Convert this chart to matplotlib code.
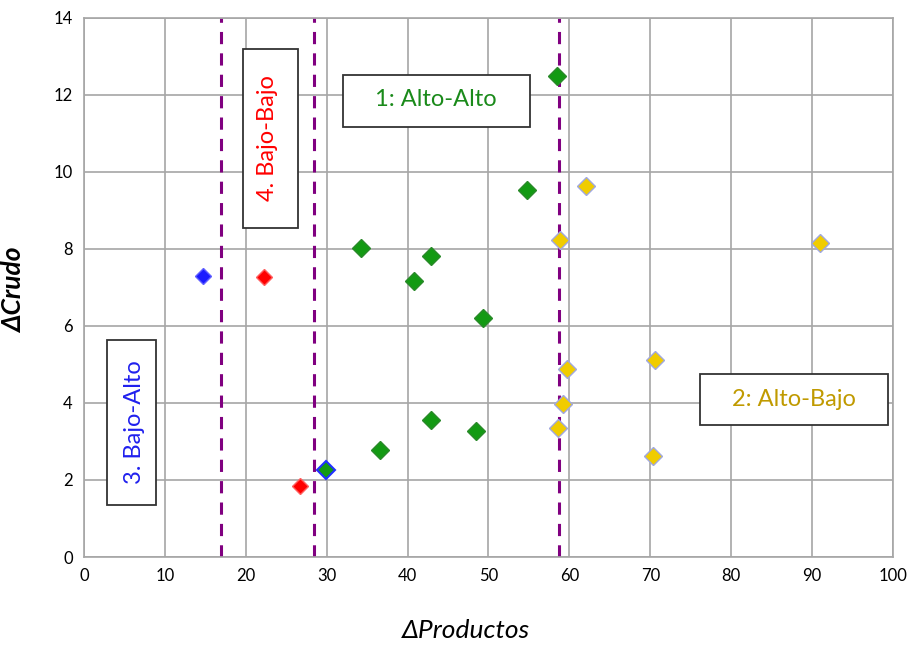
import matplotlib
matplotlib.use('Agg')
import matplotlib.pyplot as plt
from matplotlib.patches import Rectangle

plt.rcParams['font.family'] = ['Lato', 'DejaVu Sans']

# cuadrante 3 (azul), 4 (rojo), 1 (verde), 2 (amarillo)
x_azul = [14.7]
y_azul = [7.3]
x_rojo = [22.2, 26.7]
y_rojo = [7.27, 1.84]
x_verde = [29.9, 34.2, 36.6, 40.8, 42.9, 42.9, 48.5, 49.3, 54.8, 58.5]
y_verde = [2.26, 8.03, 2.78, 7.17, 7.82, 3.56, 3.27, 6.2, 9.53, 12.5]
x_amarillo = [62.1, 58.8, 59.7, 59.2, 58.6, 70.6, 70.3, 91.0]
y_amarillo = [9.64, 8.23, 4.88, 3.97, 3.35, 5.12, 2.62, 8.16]
cortes_x = [16.9, 28.4, 58.7]

fig = plt.figure(figsize=(9.1, 6.45), dpi=100)
ax = fig.add_axes([0.0923, 0.1364, 0.889, 0.836])

ax.set_xlim(0, 100)
ax.set_ylim(0, 14)
ax.set_xticks(range(0, 101, 10))
ax.set_yticks(range(0, 15, 2))
ax.grid(True, color='#a6a6a6', linewidth=1.2)
ax.set_axisbelow(True)
for s in ax.spines.values():
    s.set_color('#a6a6a6')
    s.set_linewidth(1.2)
ax.tick_params(length=0, labelsize=12, pad=8)

for xv in cortes_x:
    ax.axvline(xv, color='#800080', linestyle=(0, (4, 3)), linewidth=2.2, zorder=2)

ax.plot(x_azul, y_azul, 'D', color='#1a1aff', ms=8, mec='#6060ff', zorder=3)
ax.plot(x_rojo, y_rojo, 'D', color='#ff0000', ms=8, mec='#ff6060', zorder=3)
ax.plot(x_verde[:1], y_verde[:1], 'D', color='#139a13', ms=9, mec='#2030ff', mew=1.5, zorder=3)
ax.plot(x_verde[1:], y_verde[1:], 'D', color='#139a13', ms=9, mec='#2a8a2a', zorder=3)
ax.plot(x_amarillo, y_amarillo, 'D', color='#f0cc00', ms=9, mec='#a0a8e0', zorder=3)

# cajas de los cuadrantes: (x0, y0, ancho, alto), texto, color, rotacion, centro del texto
cajas = [
    ((19.65, 8.55, 6.8, 4.64), '4. Bajo-Bajo', '#ff0000', 90, (22.7, 10.88)),
    ((32.0, 11.17, 23.1, 1.35), '1: Alto-Alto', '#1a8a1a', 0, (43.5, 11.87)),
    ((2.84, 1.35, 6.06, 4.29), '3. Bajo-Alto', '#2020ee', 90, (6.2, 3.5)),
    ((76.1, 3.43, 23.3, 1.32), '2: Alto-Bajo', '#c09a00', 0, (87.8, 4.08)),
]
for (x0, y0, w, h), txt, col, rot, (tx, ty) in cajas:
    ax.add_patch(Rectangle((x0, y0), w, h, fc='white', ec='#333333', lw=1.3, zorder=4))
    ax.text(tx, ty, txt, color=col, fontsize=17, rotation=rot,
            ha='center', va='center', zorder=5)

ax.set_xlabel('ΔProductos', fontsize=19, style='italic', va='center')
ax.xaxis.set_label_coords(0.472, -0.136)
ax.set_ylabel('ΔCrudo', fontsize=19, style='italic', fontweight='bold')
ax.yaxis.set_label_coords(-0.071, 0.495)

fig.savefig('out.png', dpi=100)
